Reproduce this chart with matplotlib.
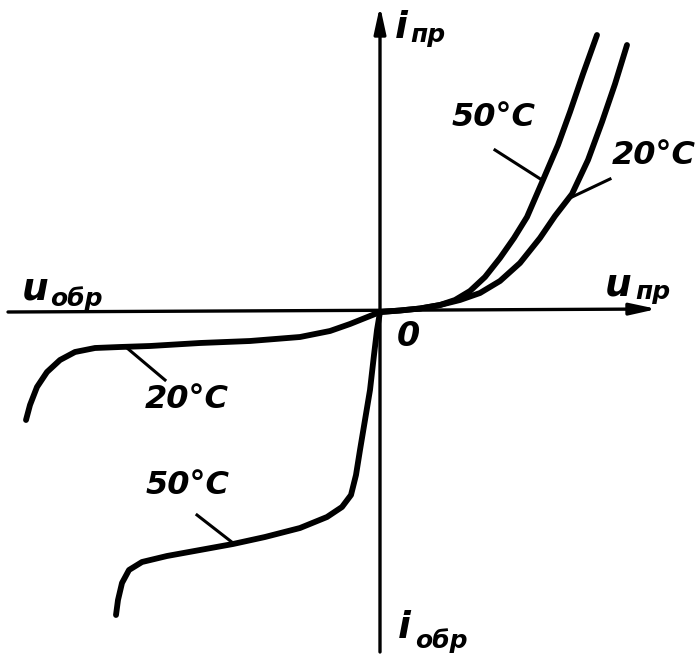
import numpy as np
import matplotlib
matplotlib.use("Agg")
import matplotlib.pyplot as plt

# Вольт-амперная характеристика диода при двух температурах
# (условные единицы, начало координат в точке пересечения осей)

# прямая ветвь, 20 °C
u_pr_20 = [0, 20, 40, 60, 80, 100, 120, 140, 160, 175, 192, 208, 222, 235, 247]
i_pr_20 = [0, 1.5, 3.5, 7, 12, 19, 31, 49, 74, 96, 118, 152, 190, 228, 267]

# прямая ветвь, 50 °C
u_pr_50 = [0, 20, 40, 60, 75, 90, 105, 120, 134, 147, 163, 178, 190, 203, 217]
i_pr_50 = [0, 1.5, 3.5, 7, 12, 21, 35, 54, 74, 95, 132, 167, 200, 238, 277]

# обратная ветвь, 20 °C
u_obr_20 = [0, -15, -30, -50, -80, -130, -180, -230, -260, -285, -305, -320, -333, -343, -350, -354]
i_obr_20 = [0, -6, -12, -19, -25, -29, -31, -34, -35, -36, -40, -48, -60, -75, -93, -108]

# обратная ветвь, 50 °C
u_obr_50 = [0, -3, -6, -10, -15, -20, -24, -29, -38, -53, -80, -115, -147, -180, -213, -238, -251, -258, -262, -264]
i_obr_50 = [0, -18, -43, -78, -108, -138, -163, -183, -195, -205, -216, -225, -232, -238, -244, -250, -258, -271, -288, -303]

# выноски к подписям температур: (u1, i1, u2, i2)
vynoski = [(115, 162, 162, 132), (192, 115, 230, 133),
           (-253, -36, -215, -68), (-183, -203, -147, -231)]
podpisi = ["50°C", "20°C", "20°C", "50°C"]
podpisi_xy = [(114, 194), (274, 156), (-193, -88), (-192, -174)]

plt.rcParams['font.family'] = ['DejaVu Sans']

fig = plt.figure(figsize=(6.97, 6.59), dpi=100)
ax = fig.add_axes([0, 0, 1, 1])
ax.set_xlim(-380, 317)
ax.set_ylim(-347, 312)
ax.axis('off')

# оси со стрелками
strelka = dict(arrowstyle='-|>,head_length=1.6,head_width=0.35', color='black',
               lw=2.4, shrinkA=0, shrinkB=0)
ax.annotate('', xy=(277, 3), xytext=(-372, 0), arrowprops=strelka)
ax.annotate('', xy=(0, 306), xytext=(0, -340), arrowprops=strelka)

# кривые
for u, i in [(u_pr_20, i_pr_20), (u_pr_50, i_pr_50),
             (u_obr_20, i_obr_20), (u_obr_50, i_obr_50)]:
    ax.plot(u, i, color='black', lw=4.2, solid_capstyle='round', solid_joinstyle='round')

# выноски и подписи
for (u1, i1, u2, i2), txt, (tx, ty) in zip(vynoski, podpisi, podpisi_xy):
    ax.plot([u1, u2], [i1, i2], color='black', lw=2.2)
    ax.text(tx, ty, txt, fontsize=23, style='italic', fontweight='bold',
            ha='center', va='center')

# обозначения осей
bolshie = dict(fontsize=27, style='italic', fontweight='bold', va='center', ha='left')
malye = dict(fontsize=18, style='italic', fontweight='bold', va='center', ha='left')
ax.text(15, 284, 'i', **bolshie)
ax.text(30, 277, 'пр', **malye)
ax.text(-358, 22, 'u', **bolshie)
ax.text(-330, 13, 'обр', **malye)
ax.text(225, 27, 'u', **bolshie)
ax.text(255, 20, 'пр', **malye)
ax.text(18, -316, 'i', **bolshie)
ax.text(35, -329, 'обр', **malye)
ax.text(28, -24, '0', fontsize=24, style='italic', fontweight='bold', ha='center', va='center')

fig.savefig('out.png', dpi=100)
